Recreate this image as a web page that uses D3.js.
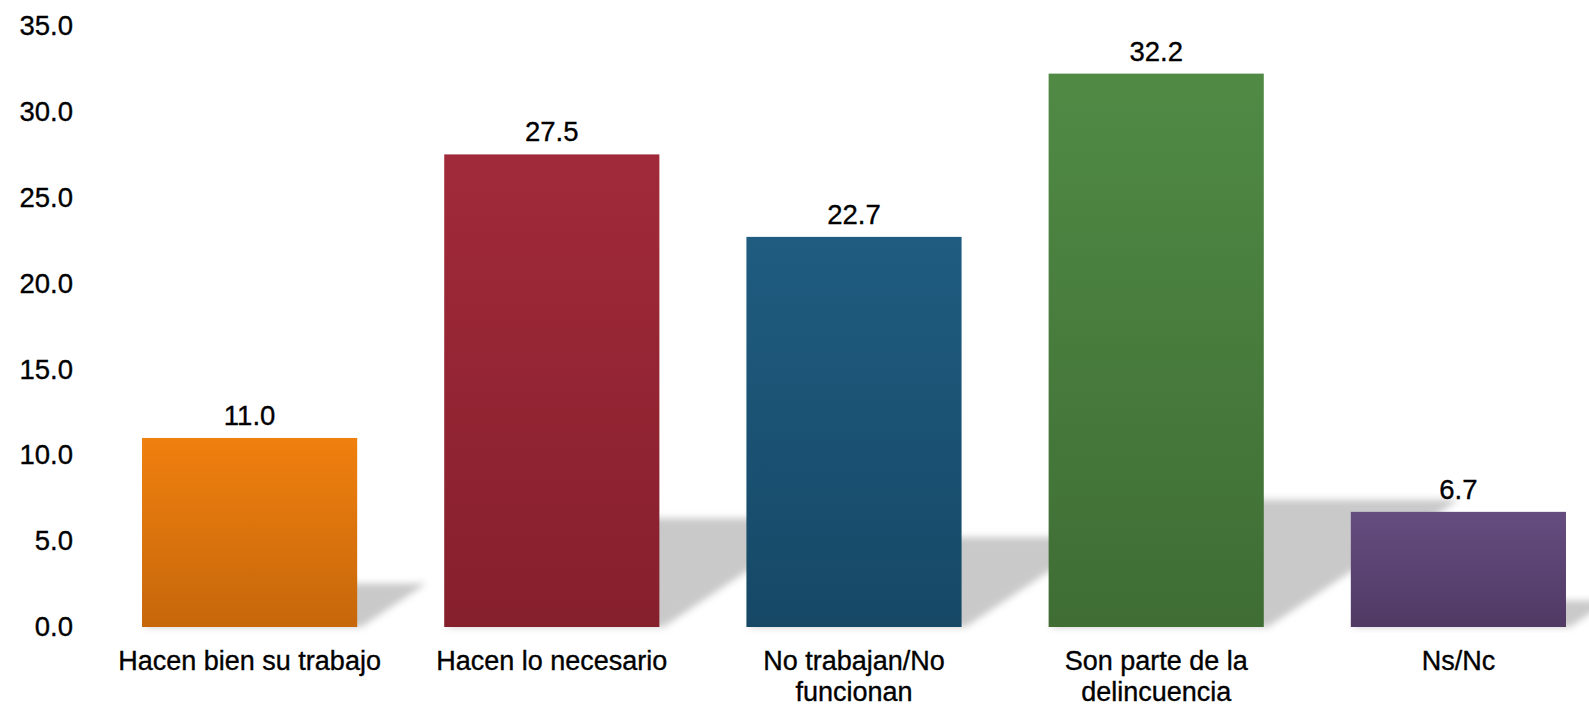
<!DOCTYPE html>
<html>
<head>
<meta charset="utf-8">
<script src="https://cdn.jsdelivr.net/npm/d3@7"></script>
<style>
  html, body { margin: 0; padding: 0; background: #ffffff; overflow: hidden; }
  svg { display: block; }
  text { font-family: "Liberation Sans", Arial, sans-serif; fill: #000; stroke: #000; stroke-width: 0.35px; }
</style>
</head>
<body>
<script>
// ---- data ----
const categories = ["Hacen bien su trabajo", "Hacen lo necesario", "No trabajan/No funcionan", "Son parte de la delincuencia", "Ns/Nc"];
const categoryLines = [["Hacen bien su trabajo"], ["Hacen lo necesario"], ["No trabajan/No", "funcionan"], ["Son parte de la", "delincuencia"], ["Ns/Nc"]];
const values = [11.0, 27.5, 22.7, 32.2, 6.7];
const yTicks = [0, 5, 10, 15, 20, 25, 30, 35];
const topColors = ["#f0800e", "#a12a3a", "#1f5c80", "#508a45", "#654d80"];
const bottomColors = ["#c6670b", "#861f2c", "#164866", "#3f6d34", "#503a64"];

const W = 1589, H = 707;
const svg = d3.select("body").append("svg").attr("width", W).attr("height", H);
const defs = svg.append("defs");

const x = d3.scaleBand().domain(categories).range([98.5, 1609.5]).paddingInner(0.288).paddingOuter(0.144);
const y = d3.scaleLinear().domain([0, 35]).range([627, 25.5]);

// gradients
categories.forEach((c, i) => {
  const g = defs.append("linearGradient").attr("id", "grad" + i)
    .attr("x1", 0).attr("y1", 0).attr("x2", 0).attr("y2", 1);
  g.append("stop").attr("offset", "0%").attr("stop-color", topColors[i]);
  g.append("stop").attr("offset", "100%").attr("stop-color", bottomColors[i]);
});

// blur filter for shadows
const f = defs.append("filter").attr("id", "blur").attr("x", "-20%").attr("y", "-20%").attr("width", "140%").attr("height", "140%");
f.append("feGaussianBlur").attr("stdDeviation", 3.5);

// shadows
const base = y(0);
svg.append("g").selectAll("path").data(values).join("path")
  .attr("d", (v, i) => {
    const x0 = x(categories[i]), x1 = x0 + x.bandwidth();
    const kh = (base - y(v)) * 0.23;
    const dx = kh * 1.5;
    return `M${x0},${base}L${x1 + 4},${base}L${x1 + 4 + dx},${base - kh}L${x0 + dx},${base - kh}Z`;
  })
  .attr("fill", "#c9c9c9")
  .attr("filter", "url(#blur)");

// bars
svg.append("g").selectAll("rect").data(values).join("rect")
  .attr("x", (v, i) => x(categories[i]))
  .attr("y", v => y(v))
  .attr("width", x.bandwidth())
  .attr("height", v => base - y(v))
  .attr("fill", (v, i) => `url(#grad${i})`);

// value labels
svg.append("g").selectAll("text").data(values).join("text")
  .attr("x", (v, i) => x(categories[i]) + x.bandwidth() / 2)
  .attr("y", v => y(v) - 13)
  .attr("text-anchor", "middle")
  .attr("font-size", 27.5)
  .text(v => d3.format(".1f")(v));

// y axis
const yAxis = d3.axisLeft(y).tickValues(yTicks).tickFormat(d3.format(".1f")).tickSize(0).tickPadding(0);
const ya = svg.append("g").attr("transform", "translate(73,0)").call(yAxis);
ya.select(".domain").remove();
ya.selectAll("text").attr("font-size", 27.5).attr("font-family", "Liberation Sans, Arial, sans-serif").attr("fill", "#000");

// x axis labels
const xa = svg.append("g");
categories.forEach((c, i) => {
  const t = xa.append("text")
    .attr("x", x(c) + x.bandwidth() / 2)
    .attr("y", 670)
    .attr("text-anchor", "middle")
    .attr("font-size", 27);
  categoryLines[i].forEach((line, j) => {
    t.append("tspan").attr("x", x(c) + x.bandwidth() / 2).attr("dy", j === 0 ? 0 : 31).text(line);
  });
});
</script>
</body>
</html>
